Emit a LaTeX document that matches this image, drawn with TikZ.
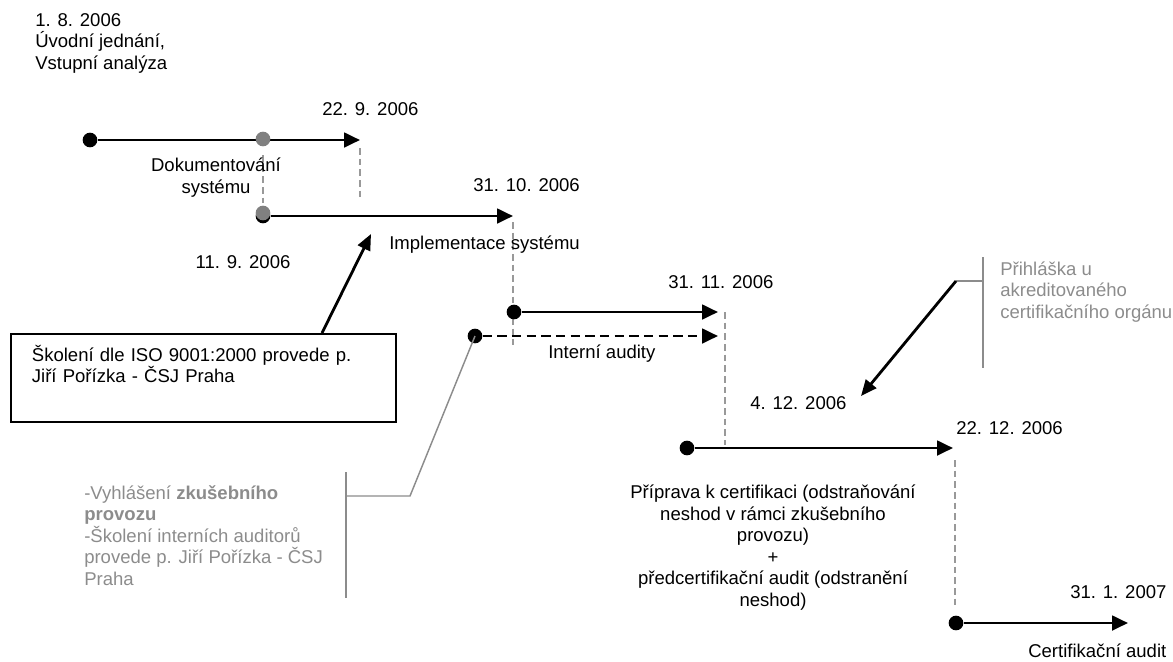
\documentclass[tikz,border=0pt]{standalone}
\usepackage{fontspec}
\setmainfont{Liberation Sans}
\usetikzlibrary{arrows.meta}
\definecolor{notegray}{HTML}{8C8C8C}
\definecolor{dotgray}{HTML}{808080}
\definecolor{guidegray}{HTML}{999999}

\begin{document}
\begin{tikzpicture}[x=0.75pt,y=-0.75pt,
    every node/.style={font=\fontsize{13.9}{16.1}\selectfont, inner sep=0pt},
    phase/.style={line width=2.1pt,-{Triangle[length=12pt,width=11pt]}},
    pointer/.style={line width=2.1pt,-{Triangle[length=12pt,width=10pt]}},
    dot/.style={circle,fill=black,minimum size=11pt},
    graydot/.style={circle,fill=dotgray,minimum size=11pt},
    guide/.style={guidegray,line width=1.1pt,dash pattern=on 5pt off 3pt},
    note/.style={notegray,line width=1.1pt},
    date/.style={anchor=base west}]

    \useasboundingbox (0,0) rectangle (1173,661);

    \node[anchor=base west, align=left] (start) at (35,69) {1. 8. 2006\\Úvodní jednání,\\Vstupní analýza};

    \node[dot] (d1) at (90,140) {};
    \coordinate (e1) at (360,140);
    \draw[phase] (d1) -- (e1);
    \node[graydot] (m1) at (263,139) {};
    \draw[guide] (360,148) -- (360,200);
    \draw[guide] (263,155) -- (263,203);
    \node[date] (t1) at (322,115) {22. 9. 2006};
    \node[anchor=base, align=center] (l1) at (216,193) {Dokumentování\\systému};

    \node[dot] (d2s) at (263,216) {};
    \coordinate (e2) at (513,216);
    \draw[phase] (d2s) -- (e2);
    \node[graydot] (d2) at (263,213) {};
    \draw[guide] (513,222) -- (513,345);
    \node[date] (t2) at (473,191) {31. 10. 2006};
    \node[date] (l2) at (389,249) {Implementace systému};
    \node[anchor=base] (t0) at (243,268) {11. 9. 2006};

    \node[draw, line width=1.4pt, anchor=north west, minimum height=66pt, inner xsep=15.75pt,
        text width=257pt, align=left] (skoleni) at (10,333)
        {Školení dle ISO 9001:2000 provede p.\\Jiří Pořízka - ČSJ Praha\\\strut};
    \coordinate (s1) at (371,234);
    \draw[pointer] ([xshift=234pt]skoleni.north west) -- (s1);

    \node[dot] (d3) at (514,312) {};
    \coordinate (e3) at (718,312);
    \draw[phase] (d3) -- (e3);
    \node[dot] (d4) at (475,336) {};
    \coordinate (e4) at (718,336);
    \draw[phase, dashed, dash pattern=on 7pt off 4pt] (d4) -- (e4);
    \draw[guide] (725,312) -- (725,445);
    \node[date] (t3) at (668,288) {31. 11. 2006};
    \node[date] (l3) at (548,358) {Interní audity};

    \coordinate (b1) at (346,496);
    \draw[note] (d4.center) -- (410,496) -- (b1);
    \draw[note] (346,472) -- (346,598);
    \node[anchor=base west, align=left, text=notegray] (n1) at (84,585)
        {-Vyhlášení \textbf{zkušebního}\\\textbf{provozu}\\-Školení interních auditorů\\provede p. Jiří Pořízka - ČSJ\\Praha};

    \coordinate (b2) at (956,281);
    \draw[note] (983,257) -- (983,368);
    \draw[note] (983,281) -- (b2);
    \node[anchor=base west, align=left, text=notegray] (n2) at (1000,318)
        {Přihláška u\\akreditovaného\\certifikačního orgánu};
    \coordinate (s2) at (861,396);
    \draw[pointer] (b2) -- (s2);
    \node[date] (t4) at (750,409) {4. 12. 2006};

    \node[dot] (d5) at (687,448) {};
    \coordinate (e5) at (953,448);
    \draw[phase] (d5) -- (e5);
    \draw[guide] (955,460) -- (955,607);
    \node[date] (t5) at (956,434) {22. 12. 2006};
    \node[anchor=base, align=center] (l5) at (773,606)
        {Příprava k certifikaci (odstraňování\\neshod v rámci zkušebního\\provozu)\\+\\předcertifikační audit (odstranění\\neshod)};

    \node[dot] (d6) at (956,623) {};
    \coordinate (e6) at (1128,623);
    \draw[phase] (d6) -- (e6);
    \node[date] (t6) at (1070,598) {31. 1. 2007};
    \node[date] (l6) at (1028,657) {Certifikační audit};

\end{tikzpicture}
\end{document}
